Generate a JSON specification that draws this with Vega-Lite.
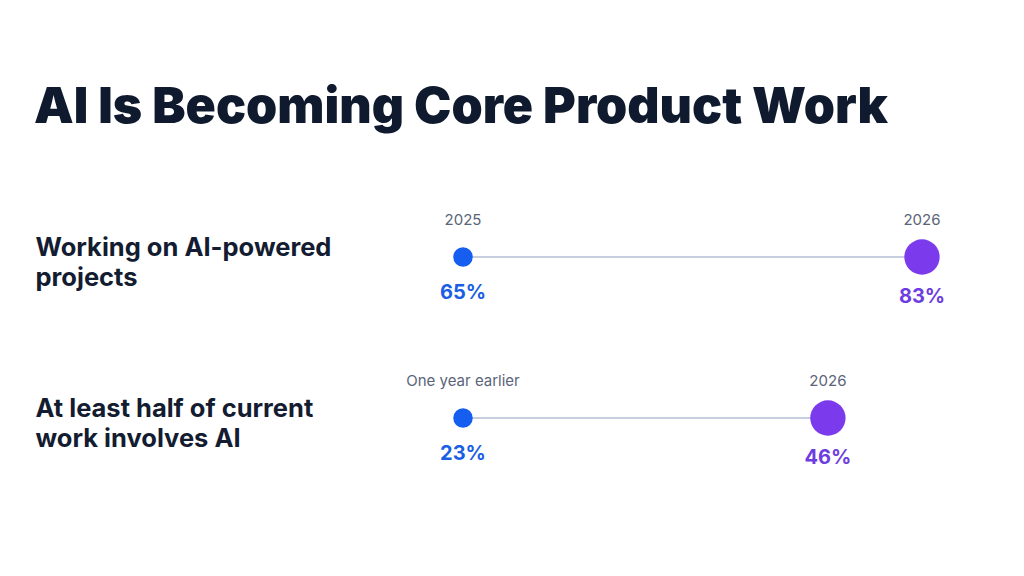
{
  "$schema": "https://vega.github.io/schema/vega-lite/v6.json",
  "autosize": "none",
  "width": 1024,
  "height": 161,
  "padding": {"left": 0, "right": 0, "top": 257, "bottom": 158},
  "background": "#ffffff",
  "title": {
    "text": "AI Is Becoming Core Product Work",
    "anchor": "start",
    "frame": "group",
    "dx": 34,
    "offset": 80,
    "font": "Inter",
    "fontSize": 50,
    "fontWeight": 900,
    "color": "#0f1a2f"
  },
  "config": {
    "view": {"stroke": null},
    "font": "Inter"
  },
  "data": {
    "values": [
      {"metric": "Working on AI-powered projects", "stage": "start", "period": "2025", "share": 0.65, "pos": 0},
      {"metric": "Working on AI-powered projects", "stage": "end", "period": "2026", "share": 0.83, "pos": 1},
      {"metric": "At least half of current work involves AI", "stage": "start", "period": "One year earlier", "share": 0.23, "pos": 0},
      {"metric": "At least half of current work involves AI", "stage": "end", "period": "2026", "share": 0.46, "pos": 0.795}
    ]
  },
  "encoding": {
    "x": {
      "field": "pos",
      "type": "quantitative",
      "scale": {"domain": [-1.00871, 1.22222], "nice": false, "zero": false},
      "axis": null
    },
    "y": {
      "field": "metric",
      "type": "nominal",
      "sort": null,
      "scale": {"type": "point", "padding": 0},
      "title": null,
      "axis": {
        "domain": false,
        "ticks": false,
        "tickSize": 0,
        "grid": false,
        "labelPadding": -35,
        "labelAlign": "left",
        "labelBaseline": "middle",
        "labelOffset": -10,
        "labelLimit": 0,
        "labelFont": "Inter",
        "labelFontSize": 25.5,
        "labelFontWeight": 700,
        "labelColor": "#131c30",
        "labelLineHeight": 30,
        "labelExpr": "datum.value == 'Working on AI-powered projects' ? ['Working on AI-powered', 'projects'] : ['At least half of current', 'work involves AI']"
      }
    }
  },
  "layer": [
    {
      "mark": {"type": "line", "color": "#c7cee0", "strokeWidth": 2},
      "encoding": {"detail": {"field": "metric"}}
    },
    {
      "mark": {"type": "circle", "opacity": 1},
      "encoding": {
        "color": {
          "field": "stage",
          "type": "nominal",
          "scale": {"domain": ["start", "end"], "range": ["#155eef", "#7c3aed"]},
          "legend": null
        },
        "size": {
          "field": "stage",
          "type": "nominal",
          "scale": {"domain": ["start", "end"], "range": [380, 1250]},
          "legend": null
        }
      }
    },
    {
      "mark": {"type": "text", "yOffset": -37, "fontSize": 15, "color": "#5b6478"},
      "encoding": {"text": {"field": "period"}}
    },
    {
      "transform": [{"filter": "datum.stage == 'start'"}],
      "mark": {"type": "text", "yOffset": 36, "fontSize": 20, "fontWeight": 700, "color": "#1a5fe3"},
      "encoding": {"text": {"field": "share", "type": "quantitative", "format": ".0%"}}
    },
    {
      "transform": [{"filter": "datum.stage == 'end'"}],
      "mark": {"type": "text", "yOffset": 40, "fontSize": 20, "fontWeight": 700, "color": "#6e3ddf"},
      "encoding": {"text": {"field": "share", "type": "quantitative", "format": ".0%"}}
    }
  ]
}
